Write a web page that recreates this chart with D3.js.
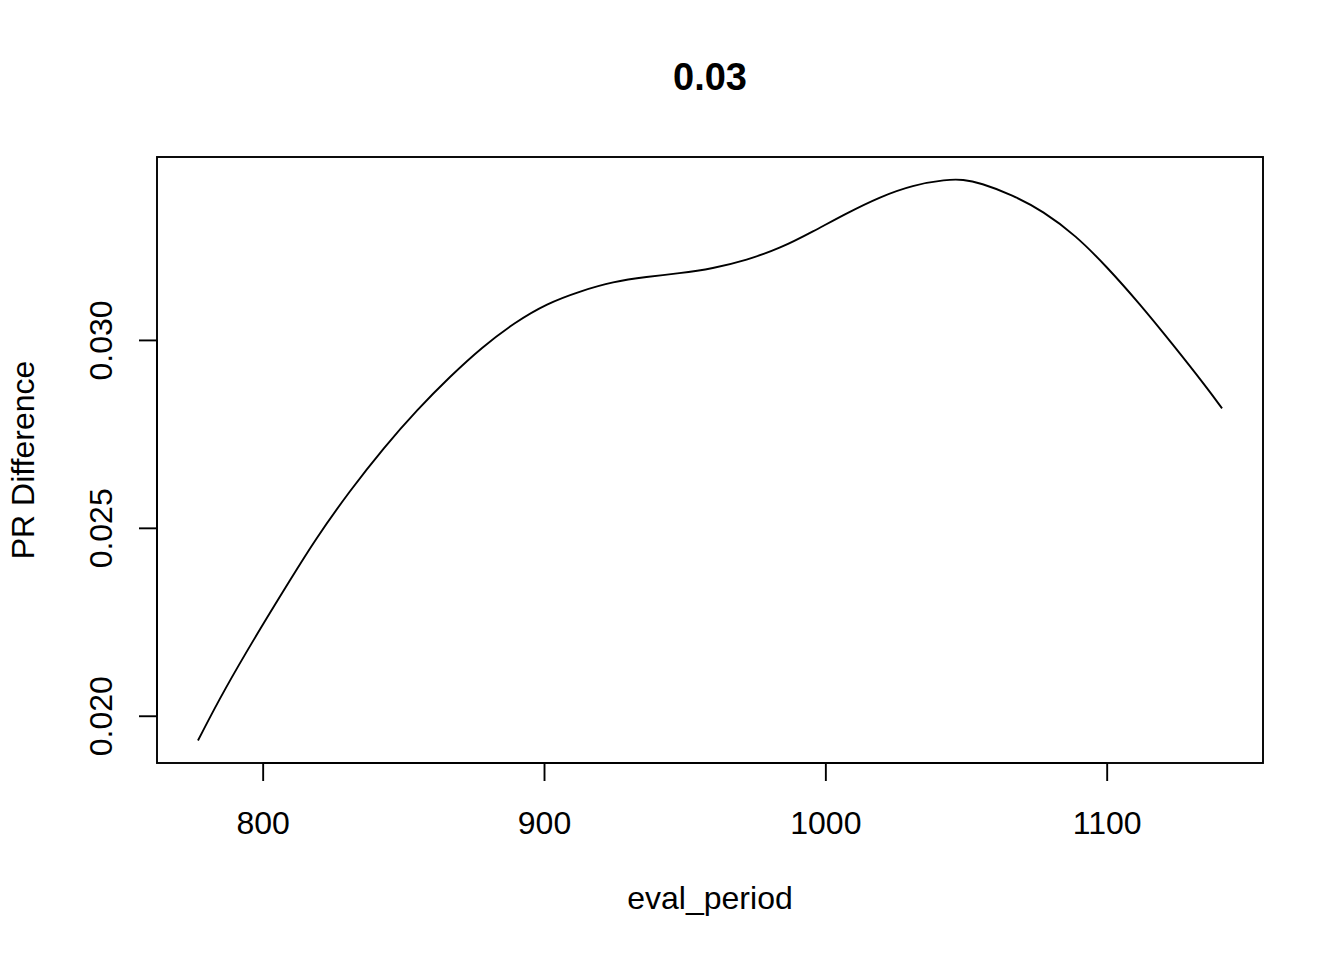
<!DOCTYPE html>
<html>
<head>
<meta charset="utf-8">
<script src="https://cdn.jsdelivr.net/npm/d3@7"></script>
<style>
  html, body { margin: 0; padding: 0; background: #fff; }
  svg { display: block; }
  text { font-family: "Liberation Sans", Arial, Helvetica, sans-serif; fill: #000; }
</style>
</head>
<body>
<svg id="chart" width="1344" height="960"></svg>
<script>
const titleText = "0.03";
const xLabel = "eval_period";
const yLabel = "PR Difference";

const evalPeriod = [777, 786, 800, 810, 818.5, 831, 843, 855, 866.5, 878, 889.5, 901, 913, 924.5, 936.5, 948, 960, 972, 984, 995.5, 1007.5, 1019.5, 1031, 1043, 1049, 1055, 1066.5, 1077.5, 1089, 1100, 1111.5, 1123.5, 1135.5, 1141];
const prDiff = [0.01934, 0.02065, 0.02243, 0.02364, 0.02467, 0.02599, 0.02713, 0.02815, 0.02902, 0.02981, 0.03046, 0.03097, 0.03130, 0.03155, 0.03168, 0.03177, 0.03190, 0.03212, 0.03244, 0.03288, 0.03337, 0.03381, 0.03412, 0.03427, 0.03427, 0.03418, 0.03386, 0.03342, 0.03278, 0.03195, 0.03098, 0.02988, 0.02874, 0.02818];

const xTicks = [800, 900, 1000, 1100];
const yTicks = [0.020, 0.025, 0.030];
const yTickLabels = ["0.020", "0.025", "0.030"];

(function () {
const svg = d3.select("#chart");
const mLeft = 157, mRight = 1263, mTop = 157, mBottom = 763;
const lw = 1.9;
const fs = 32;

function padExtent(arr) {
  const [a, b] = d3.extent(arr);
  const p = (b - a) * 0.04;
  return [a - p, b + p];
}

const x = d3.scaleLinear().domain(padExtent(evalPeriod)).range([mLeft, mRight]);
const y = d3.scaleLinear().domain(padExtent(prDiff)).range([mBottom, mTop]);

// curve
const data = evalPeriod.map((d, i) => ({ x: d, y: prDiff[i] }));
const line = d3.line().x(d => x(d.x)).y(d => y(d.y)).curve(d3.curveBasis);
svg.append("path").datum(data).attr("d", line)
  .attr("fill", "none").attr("stroke", "#000").attr("stroke-width", lw)
  .attr("stroke-linejoin", "round");

// box
svg.append("rect").attr("x", mLeft).attr("y", mTop)
  .attr("width", mRight - mLeft).attr("height", mBottom - mTop)
  .attr("fill", "none").attr("stroke", "#000").attr("stroke-width", lw);

// x axis
const xAxis = d3.axisBottom(x).tickValues(xTicks).tickSize(18).tickPadding(0).tickFormat(d3.format("d"));
const gx = svg.append("g").attr("transform", `translate(0,${mBottom})`).call(xAxis);
gx.select(".domain").attr("d", `M${x(xTicks[0])},0H${x(xTicks[xTicks.length-1])}`).attr("stroke-width", lw);
gx.selectAll(".tick line").attr("stroke-width", lw);
gx.selectAll(".tick text").attr("font-size", fs).attr("y", 71).attr("dy", 0)
  .attr("font-family", '"Liberation Sans", Arial, sans-serif').attr("fill", "#000");

// y axis
const yAxis = d3.axisLeft(y).tickValues(yTicks).tickSize(18).tickFormat((d, i) => yTickLabels[i]);
const gy = svg.append("g").attr("transform", `translate(${mLeft},0)`).call(yAxis);
gy.select(".domain").attr("d", `M0,${y(yTicks[0])}V${y(yTicks[yTicks.length-1])}`).attr("stroke-width", lw);
gy.selectAll(".tick line").attr("stroke-width", lw);
gy.selectAll(".tick text")
  .attr("font-size", fs).attr("x", null).attr("dy", 0)
  .attr("font-family", '"Liberation Sans", Arial, sans-serif').attr("fill", "#000")
  .attr("text-anchor", "middle")
  .attr("transform", "translate(-45.5,0) rotate(-90)");

// title
svg.append("text").attr("x", (mLeft + mRight) / 2).attr("y", 89.5)
  .attr("text-anchor", "middle").attr("font-size", 38).attr("font-weight", "bold").text(titleText);

// x label
svg.append("text").attr("x", (mLeft + mRight) / 2).attr("y", 908.5)
  .attr("text-anchor", "middle").attr("font-size", fs).text(xLabel);

// y label
svg.append("text").attr("transform", `translate(33.5,${(mTop + mBottom) / 2}) rotate(-90)`)
  .attr("text-anchor", "middle").attr("font-size", fs).text(yLabel);
})();
</script>
</body>
</html>
